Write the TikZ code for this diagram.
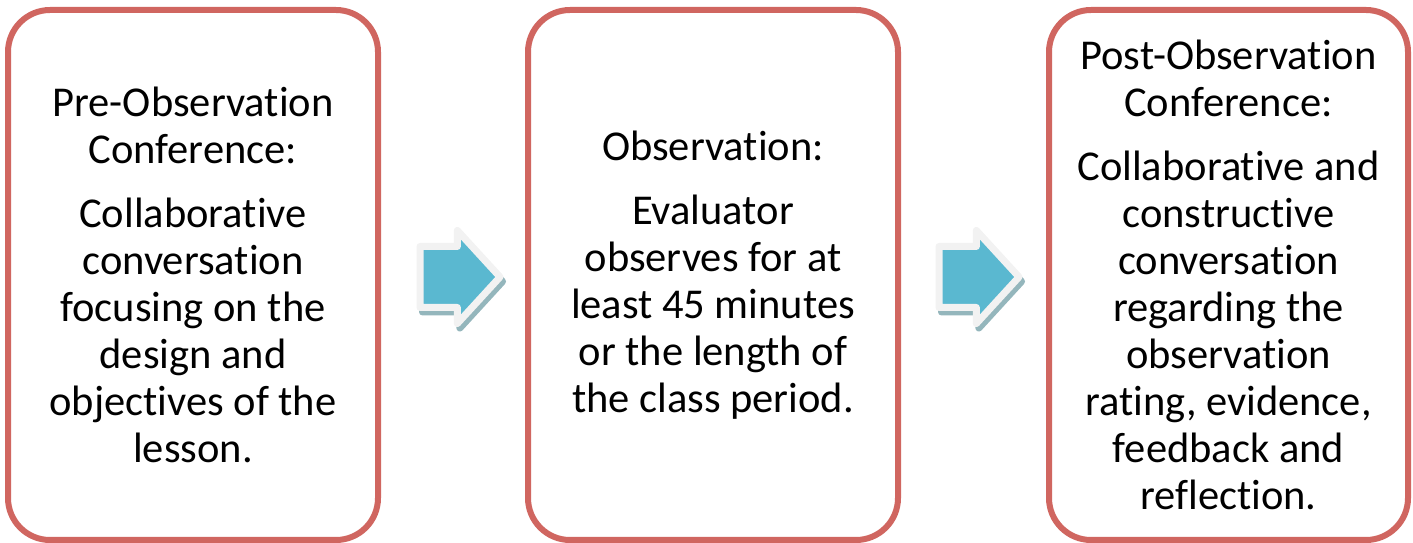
\documentclass[tikz,border=0pt]{standalone}
\usepackage{fontspec}
\setmainfont{Carlito}[Ligatures=NoCommon]
\usetikzlibrary{positioning, shapes.arrows}

\definecolor{stageborder}{RGB}{208,102,96}
\definecolor{flowblue}{RGB}{90,184,208}
\definecolor{flowrim}{RGB}{242,242,242}
\definecolor{flowshadow}{RGB}{148,182,188}

\begin{document}
\begin{tikzpicture}[
    x=1pt, y=1pt,
    stage/.style={draw=stageborder, line width=6pt, rounded corners=42pt, fill=white, minimum width=370pt, minimum height=530pt, outer sep=0pt, inner sep=0pt, align=center, font=\fontsize{42.5}{47}\selectfont},
    flow/.style={single arrow, fill=flowblue, draw=flowrim, line width=7pt, line join=round, minimum height=80pt, minimum width=1pt, inner xsep=0pt, inner ysep=27pt, single arrow head extend=16pt, single arrow tip angle=95, preaction={fill=flowshadow, draw=flowshadow, transform canvas={shift={(2.5pt,-4.5pt)}}}},
    node distance=150pt
]
    \useasboundingbox (0,0) rectangle (1413,543);

    % Stages
    \node[stage] (pre) at (193,268) {Pre-Observation\\Conference:\\[17pt]Collaborative\\conversation\\focusing on the\\design and\\objectives of the\\lesson.};
    \node[stage, right=150pt of pre] (obs) {Observation:\\[17pt]Evaluator\\observes for at\\least 45 minutes\\or the length of\\the class period.};
    \node[stage, right=151pt of obs, minimum width=359pt] (post) {Post-Observation\\Conference:\\[17pt]Collaborative and\\constructive\\conversation\\regarding the\\observation\\rating, evidence,\\feedback and\\reflection.};

    % Arrows between stages
    \node[flow, anchor=tail] (toobs) at (416.5,266) {};
    \node[flow, anchor=tail] (topost) at (935.5,266) {};
\end{tikzpicture}
\end{document}
